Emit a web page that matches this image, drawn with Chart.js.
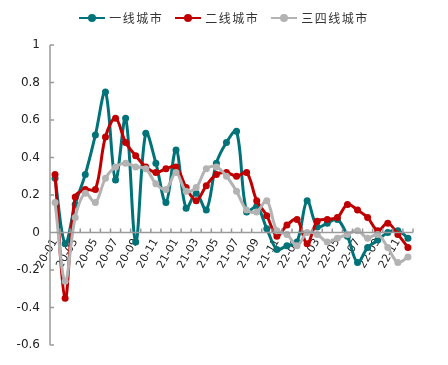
<!DOCTYPE html>
<html>
<head>
<meta charset="utf-8">
<script src="https://cdn.jsdelivr.net/npm/chart.js@4/dist/chart.umd.min.js"></script>
<style>
  html, body { margin: 0; padding: 0; background: #fff; }
  #wrap { position: relative; width: 448px; height: 365px; }
  #legend {
    position: absolute; top: 9px; left: 0; width: 448px;
    display: flex; justify-content: center; gap: 12px;
    font: 12px "Noto Sans CJK SC", sans-serif; color: #333; letter-spacing: 1.5px;
  }
  .item { display: flex; align-items: center; }
  .mark { position: relative; width: 26px; height: 10px; margin-right: 4px; }
  .mark .ln { position: absolute; left: 0; right: 0; top: 4px; height: 2px; }
  .mark .dt { position: absolute; left: 9px; top: 1px; width: 8px; height: 8px; border-radius: 50%; }
</style>
</head>
<body>
<div id="wrap">
  <div id="legend"></div>
  <canvas id="c" width="448" height="365"></canvas>
</div>
<script>
const months = ['20-01','20-02','20-03','20-04','20-05','20-06','20-07','20-08','20-09','20-10','20-11','20-12',
                '21-01','21-02','21-03','21-04','21-05','21-06','21-07','21-08','21-09','21-10','21-11','21-12',
                '22-01','22-02','22-03','22-04','22-05','22-06','22-07','22-08','22-09','22-10','22-11','22-12'];
const tier1 = [0.29, -0.06, 0.15, 0.31, 0.52, 0.75, 0.28, 0.61, -0.05, 0.53, 0.37, 0.16,
               0.44, 0.13, 0.21, 0.12, 0.37, 0.48, 0.54, 0.11, 0.14, 0.02, -0.09, -0.07,
               -0.05, 0.17, 0.03, 0.05, 0.07, -0.02, -0.16, -0.08, -0.04, 0.00, 0.01, -0.03];
const tier2 = [0.31, -0.35, 0.19, 0.23, 0.23, 0.51, 0.61, 0.48, 0.41, 0.35, 0.32, 0.34,
               0.35, 0.24, 0.17, 0.25, 0.31, 0.32, 0.30, 0.32, 0.17, 0.09, -0.02, 0.04,
               0.07, -0.06, 0.06, 0.07, 0.08, 0.15, 0.12, 0.08, 0.01, 0.05, -0.01, -0.08];
const tier34 = [0.16, -0.26, 0.08, 0.21, 0.16, 0.29, 0.35, 0.37, 0.35, 0.34, 0.26, 0.23,
                0.32, 0.22, 0.24, 0.34, 0.35, 0.30, 0.22, 0.12, 0.11, 0.17, 0.01, -0.01,
                -0.07, 0.00, -0.01, -0.05, -0.03, -0.01, 0.01, -0.03, -0.01, -0.08, -0.16, -0.13];
const seriesNames = ['一线城市', '二线城市', '三四线城市'];
const colors = ['#007379', '#c00000', '#b3b3b3'];
const yTicks = [1, 0.8, 0.6, 0.4, 0.2, 0, -0.2, -0.4, -0.6];

// html legend
const legendEl = document.getElementById('legend');
seriesNames.forEach((name, i) => {
  const it = document.createElement('div');
  it.className = 'item';
  it.innerHTML = `<span class="mark"><span class="ln" style="background:${colors[i]}"></span><span class="dt" style="background:${colors[i]}"></span></span>${name}`;
  legendEl.appendChild(it);
});

// axis lines with inward ticks, like the original
const axisPlugin = {
  id: 'axes',
  afterDatasetsDraw(chart) {
    const {ctx, chartArea: a, scales: {x, y}} = chart;
    ctx.save();
    ctx.strokeStyle = '#9a9a9a';
    ctx.lineWidth = 1.5;
    ctx.beginPath();
    ctx.moveTo(a.left, a.top); ctx.lineTo(a.left, a.bottom);
    yTicks.forEach(v => { const py = y.getPixelForValue(v); ctx.moveTo(a.left, py); ctx.lineTo(a.left + 4, py); });
    const y0 = y.getPixelForValue(0);
    ctx.moveTo(a.left, y0); ctx.lineTo(a.right, y0);
    const step = (a.right - a.left) / months.length;
    for (let i = 0; i <= months.length; i++) {
      const px = a.left + i * step;
      ctx.moveTo(px, y0); ctx.lineTo(px, y0 - 4);
    }
    ctx.stroke();
    ctx.restore();
  }
};

// later series sit on top (lower order = drawn last)
const mk = (i, data, order) => ({
  label: seriesNames[i], data, order,
  borderColor: colors[i], backgroundColor: colors[i],
  borderWidth: 3, pointRadius: 3.5, pointBorderWidth: 0,
  tension: 0.35
});

new Chart(document.getElementById('c'), {
  type: 'line',
  data: { labels: months, datasets: [mk(0, tier1, 2), mk(1, tier2, 1), mk(2, tier34, 0)] },
  options: {
    responsive: false, animation: false,
    layout: { padding: { left: 8, right: 35, top: 45, bottom: 20 } },
    plugins: { legend: { display: false }, tooltip: { enabled: false } },
    scales: {
      x: {
        type: 'category', offset: true, position: { y: 0 },
        grid: { display: false, drawTicks: false }, border: { display: false },
        ticks: {
          autoSkip: false, minRotation: 60, maxRotation: 60, padding: 4,
          color: '#222', font: { family: 'DejaVu Sans', size: 11 },
          callback: (v, i) => (i % 2 === 0 ? months[i] : '')
        }
      },
      y: {
        min: -0.6, max: 1,
        afterFit: s => { s.width = 42; },
        grid: { display: false, drawTicks: false }, border: { display: false },
        afterBuildTicks: s => { s.ticks = yTicks.map(v => ({ value: v })); },
        ticks: {
          padding: 10, color: '#222', font: { family: 'DejaVu Sans', size: 12 },
          callback: v => (Math.abs(v) < 1e-9 ? '0' : (Math.round(v * 10) / 10).toString())
        }
      }
    }
  },
  plugins: [axisPlugin]
});
</script>
</body>
</html>
